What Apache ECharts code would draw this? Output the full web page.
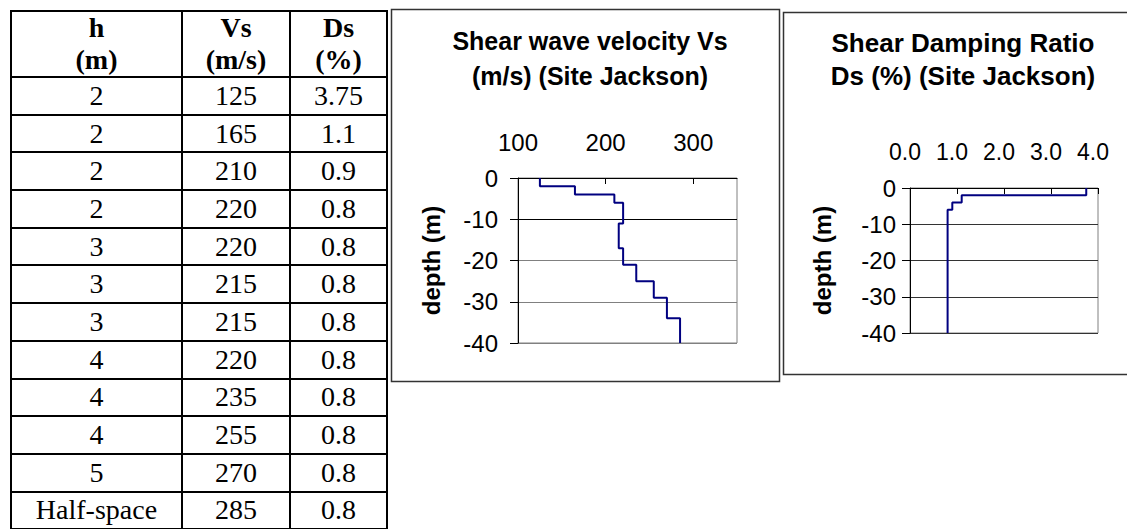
<!DOCTYPE html>
<html><head><meta charset="utf-8">
<script src="https://cdn.jsdelivr.net/npm/echarts@6/dist/echarts.min.js"></script>
<style>
html,body{margin:0;padding:0;background:#fff;}
#wrap{position:relative;width:1127px;height:529px;overflow:hidden;background:#fff;}
#chart{position:absolute;left:0;top:0;width:1127px;height:529px;}
#tbl{position:absolute;left:10px;top:10px;border-collapse:collapse;font-family:"Liberation Serif","Times New Roman",serif;font-size:28px;color:#000;z-index:2;table-layout:fixed;}
#tbl td,#tbl th{border:2px solid #000;text-align:center;padding:0;line-height:1;}
#tbl th{font-weight:bold;font-size:28px;line-height:32px;height:64px;}
#tbl td{height:35.7px;}
</style></head>
<body>
<div id="wrap">
  <div id="chart"></div>
  <table id="tbl">
    <colgroup><col style="width:171px"><col style="width:108px"><col style="width:97px"></colgroup>
    <thead><tr id="hdr"></tr></thead>
    <tbody id="tbody"></tbody>
  </table>
</div>
<script>
// ---- data ----
var headers = ['h<br>(m)', 'Vs<br>(m/s)', 'Ds<br>(%)'];
var thicknessLabels = ['2','2','2','2','3','3','3','4','4','4','5','Half-space'];
var thickness = [2,2,2,2,3,3,3,4,4,4,5,null];
var vsValues = [125,165,210,220,220,215,215,220,235,255,270,285];
var dsLabels = ['3.75','1.1','0.9','0.8','0.8','0.8','0.8','0.8','0.8','0.8','0.8','0.8'];
var dsValues = [3.75,1.1,0.9,0.8,0.8,0.8,0.8,0.8,0.8,0.8,0.8,0.8];
var depthTicks = [0,-10,-20,-30,-40];
var vsTicks = [100,200,300];
var dsTicks = [0,1,2,3,4];
var profileBottom = 40;

// ---- table ----
var hdr = document.getElementById('hdr');
headers.forEach(function(h){ var th=document.createElement('th'); th.innerHTML=h; hdr.appendChild(th); });
var tb = document.getElementById('tbody');
for (var i=0;i<thicknessLabels.length;i++){
  var tr=document.createElement('tr');
  [thicknessLabels[i], String(vsValues[i]), dsLabels[i]].forEach(function(t){var td=document.createElement('td');td.textContent=t;tr.appendChild(td);});
  tb.appendChild(tr);
}

// ---- step profiles ----
function profile(vals){
  var pts=[], top=0;
  for (var i=0;i<vals.length;i++){
    var bot = thickness[i]==null ? profileBottom : top+thickness[i];
    pts.push([vals[i], -top]); pts.push([vals[i], -bot]);
    top = bot;
  }
  return pts;
}

var FS = '"Liberation Sans", Arial, sans-serif';
var chart = echarts.init(document.getElementById('chart'), null, {renderer:'svg'});
function yAxis(gridIndex, gap, margin, colors){
  return {
    type:'value', gridIndex:gridIndex, min:-40, max:0, interval:10,
    name:'depth (m)', nameLocation:'middle', nameGap:gap, nameRotate:90,
    nameTextStyle:{fontFamily:FS, fontWeight:'bold', fontSize:24, color:'#000'},
    axisLine:{show:true, lineStyle:{color:'#000', width:1}},
    axisTick:{show:true, length:8, lineStyle:{color:'#000'}},
    axisLabel:{fontFamily:FS, fontSize:24, color:'#000', margin:margin,
      formatter:function(v){return depthTicks.indexOf(v)>=0?String(v):'';}},
    splitLine:{show:true, lineStyle:{color:colors, width:1}}
  };
}
chart.setOption({
  animation:false,
  title:[
    {text:'Shear wave velocity Vs\n(m/s) (Site Jackson)', left:585, top:18, textAlign:'center',
     textStyle:{fontFamily:FS, fontWeight:'bold', fontSize:25, color:'#000', lineHeight:35}},
    {text:'Shear Damping Ratio\nDs (%) (Site Jackson)', left:958, top:21, textAlign:'center',
     textStyle:{fontFamily:FS, fontWeight:'bold', fontSize:26, color:'#000', lineHeight:33}}
  ],
  graphic:[
    {type:'rect', shape:{x:391.5, y:9.5, width:388, height:372}, style:{fill:'none', stroke:'#333', lineWidth:1.5}, z:-1},
    {type:'rect', shape:{x:783.5, y:12.5, width:360, height:362}, style:{fill:'none', stroke:'#333', lineWidth:1.5}, z:-1}
  ],
  grid:[
    {left:518, top:178, width:219, height:165, show:true, borderColor:'#808080', borderWidth:1, backgroundColor:'#fff'},
    {left:910, top:188, width:188, height:145, show:true, borderColor:'#808080', borderWidth:1, backgroundColor:'#fff'}
  ],
  xAxis:[
    {type:'value', gridIndex:0, position:'top', min:100, max:350, interval:100,
     axisLine:{show:true, lineStyle:{color:'#000'}},
     axisTick:{show:true, inside:true, length:6, lineStyle:{color:'#000'}},
     axisLabel:{fontFamily:FS, fontSize:24, color:'#000', margin:24, showMaxLabel:false,
       formatter:function(v){return vsTicks.indexOf(v)>=0?String(v):'';}},
     splitLine:{show:false}},
    {type:'value', gridIndex:1, position:'top', min:0, max:4, interval:1,
     axisLine:{show:true, lineStyle:{color:'#000'}},
     axisTick:{show:true, inside:true, length:6, lineStyle:{color:'#000'}},
     axisLabel:{fontFamily:FS, fontSize:23, color:'#000', margin:25, padding:[0,10,0,0],
       formatter:function(v){return dsTicks.indexOf(v)>=0?v.toFixed(1):'';}},
     splitLine:{show:false}}
  ],
  yAxis:[
    yAxis(0, 75, 20, ['#808080','#808080','#808080','#000','#000']),
    yAxis(1, 76, 14, ['#333','#333','#333','#333','#333'])
  ],
  series:[
    {type:'line', xAxisIndex:0, yAxisIndex:0, data:profile(vsValues), showSymbol:false, symbol:'none',
     lineStyle:{color:'#000080', width:2}, itemStyle:{color:'#000080'}},
    {type:'line', xAxisIndex:1, yAxisIndex:1, data:profile(dsValues), showSymbol:false, symbol:'none',
     lineStyle:{color:'#000080', width:2}, itemStyle:{color:'#000080'}}
  ]
});
</script>
</body></html>
